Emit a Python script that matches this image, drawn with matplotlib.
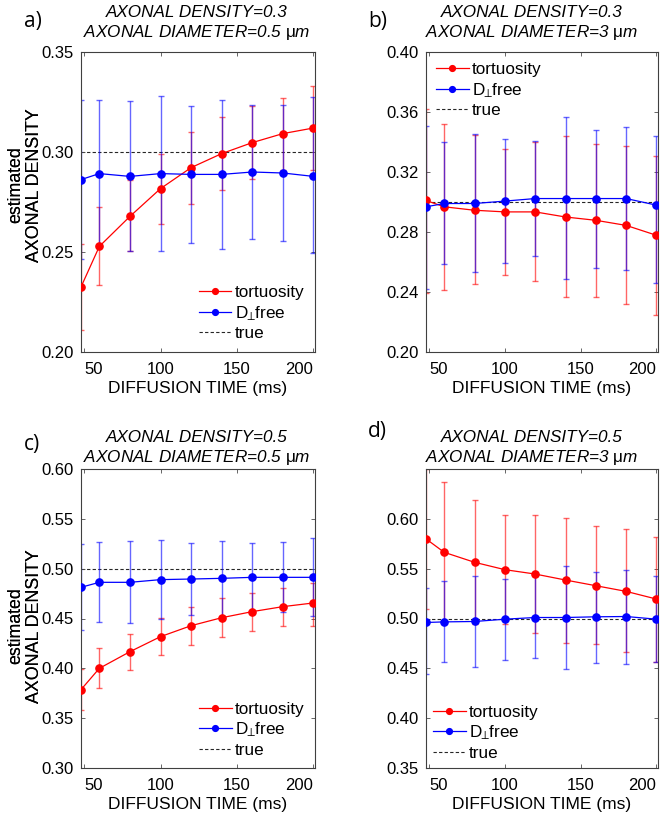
import matplotlib
matplotlib.use("Agg")
import matplotlib.pyplot as plt
import numpy as np

plt.rcParams["font.family"] = ["Liberation Sans", "DejaVu Sans"]
plt.rcParams["mathtext.fontset"] = "custom"
plt.rcParams["mathtext.rm"] = "Liberation Sans"
plt.rcParams["mathtext.it"] = "Liberation Sans:italic"
plt.rcParams["mathtext.fallback"] = "stixsans"

# diffusion times (ms), shared by all panels
TIMES = [48, 60, 80, 100, 120, 140, 160, 180, 200]
TRUE_DENSITY = [0.3, 0.3, 0.5, 0.5]
PANEL_LABELS = ["a)", "b)", "c)", "d)"]
DIAMETERS = ["0.5", "3", "0.5", "3"]

# tortuosity / D-perp-free estimates: mean, lower and upper ends of the error bars
TORT_A = [0.2325, 0.2528, 0.2678, 0.2817, 0.2922, 0.2992, 0.3047, 0.3092, 0.3120]
TORT_A_LO = [0.2112, 0.2333, 0.2505, 0.2638, 0.2738, 0.2808, 0.2867, 0.2908, 0.2908]
TORT_A_HI = [0.2540, 0.2725, 0.2858, 0.2992, 0.3100, 0.3175, 0.3228, 0.3270, 0.3328]
DFREE_A = [0.2862, 0.2892, 0.2878, 0.2892, 0.2888, 0.2888, 0.2900, 0.2895, 0.2878]
DFREE_A_LO = [0.2467, 0.2525, 0.2505, 0.2505, 0.2545, 0.2517, 0.2567, 0.2555, 0.2497]
DFREE_A_HI = [0.3258, 0.3258, 0.3253, 0.3280, 0.3230, 0.3262, 0.3237, 0.3237, 0.3275]

TORT_B = [0.3010, 0.2968, 0.2945, 0.2934, 0.2934, 0.2900, 0.2878, 0.2844, 0.2778]
TORT_B_LO = [0.2391, 0.2415, 0.2454, 0.2514, 0.2474, 0.2369, 0.2369, 0.2320, 0.2246]
TORT_B_HI = [0.3620, 0.3520, 0.3446, 0.3356, 0.3403, 0.3437, 0.3385, 0.3374, 0.3307]
DFREE_B = [0.2968, 0.2990, 0.2990, 0.3006, 0.3023, 0.3023, 0.3023, 0.3023, 0.2979]
DFREE_B_LO = [0.2418, 0.2586, 0.2530, 0.2592, 0.2641, 0.2485, 0.2563, 0.2547, 0.2458]
DFREE_B_HI = [0.3508, 0.3397, 0.3453, 0.3423, 0.3408, 0.3564, 0.3482, 0.3497, 0.3441]

TORT_C = [0.3786, 0.4000, 0.4167, 0.4318, 0.4428, 0.4508, 0.4569, 0.4619, 0.4656]
TORT_C_LO = [0.3580, 0.3800, 0.3983, 0.4134, 0.4234, 0.4311, 0.4378, 0.4428, 0.4428]
TORT_C_HI = [0.3990, 0.4200, 0.4344, 0.4502, 0.4619, 0.4702, 0.4752, 0.4803, 0.4856]
DFREE_C = [0.4813, 0.4863, 0.4863, 0.4890, 0.4896, 0.4903, 0.4913, 0.4913, 0.4913]
DFREE_C_LO = [0.4388, 0.4462, 0.4455, 0.4495, 0.4535, 0.4528, 0.4569, 0.4569, 0.4522]
DFREE_C_HI = [0.5250, 0.5264, 0.5281, 0.5288, 0.5254, 0.5281, 0.5258, 0.5271, 0.5304]

TORT_D = [0.5799, 0.5664, 0.5564, 0.5490, 0.5446, 0.5386, 0.5329, 0.5272, 0.5195]
TORT_D_LO = [0.5100, 0.4960, 0.4940, 0.4946, 0.4859, 0.4758, 0.4742, 0.4664, 0.4564]
TORT_D_HI = [0.6500, 0.6369, 0.6185, 0.6034, 0.6034, 0.6010, 0.5926, 0.5893, 0.5815]
DFREE_D = [0.4960, 0.4966, 0.4970, 0.4993, 0.5010, 0.5010, 0.5017, 0.5020, 0.4993]
DFREE_D_LO = [0.4446, 0.4567, 0.4517, 0.4584, 0.4607, 0.4490, 0.4557, 0.4540, 0.4564]
DFREE_D_HI = [0.5302, 0.5379, 0.5430, 0.5396, 0.5423, 0.5523, 0.5470, 0.5490, 0.5423]

Y_LIMS = [(0.20, 0.35), (0.20, 0.40), (0.30, 0.60), (0.35, 0.65)]
Y_TICKS = [
    [0.20, 0.25, 0.30, 0.35],
    [0.20, 0.24, 0.28, 0.32, 0.36, 0.40],
    [0.30, 0.35, 0.40, 0.45, 0.50, 0.55, 0.60],
    [0.35, 0.40, 0.45, 0.50, 0.55, 0.60],
]
X_TICKS = [50, 100, 150, 200]
LEGEND_LOC = ["lower right", "upper left", "lower right", "lower left"]
LEGEND_PAD = [0.32, 0.3, 0.3, 0.12]

W, H = 664, 813
# axes boxes in pixels: left, top, right, bottom
BOXES = [(81, 52, 315, 352), (426, 52, 658, 352), (81, 469, 315, 768), (426, 469, 658, 768)]
TITLE_XY = [(197, 37), (532, 37), (197, 462), (532, 462)]
LABEL_XY = [(24, 22), (368, 22), (24, 444), (368, 431)]
YLABEL_Y = [0.557, 0.557, 0.475, 0.475]

series = [
    (TORT_A, TORT_A_LO, TORT_A_HI, DFREE_A, DFREE_A_LO, DFREE_A_HI),
    (TORT_B, TORT_B_LO, TORT_B_HI, DFREE_B, DFREE_B_LO, DFREE_B_HI),
    (TORT_C, TORT_C_LO, TORT_C_HI, DFREE_C, DFREE_C_LO, DFREE_C_HI),
    (TORT_D, TORT_D_LO, TORT_D_HI, DFREE_D, DFREE_D_LO, DFREE_D_HI),
]


def draw_series(ax, t, m, lo, hi, color, label):
    m = np.array(m)
    yerr = [m - np.array(lo), np.array(hi) - m]
    ax.errorbar(t, m, yerr=yerr, fmt="none", ecolor=color, elinewidth=1.0,
                capsize=2, capthick=1.0, alpha=0.6, zorder=2)
    ax.plot(t, m, "-o", color=color, lw=0.9, ms=5.2, mec=color, label=label, zorder=3)


fig = plt.figure(figsize=(W / 100, H / 100), dpi=100)

for i in range(4):
    l, t, r, b = BOXES[i]
    ax = fig.add_axes([l / W, 1 - b / H, (r - l) / W, (b - t) / H])
    tort, tlo, thi, dfr, dlo, dhi = series[i]

    draw_series(ax, TIMES, tort, tlo, thi, "#ff0000", "tortuosity")
    draw_series(ax, TIMES, dfr, dlo, dhi, "#0000ff", r"$\mathregular{D_{\!\!\perp}\!free}$")
    ax.axhline(TRUE_DENSITY[i], color="0.15", lw=0.8, ls=(0, (3, 2)), label="true", zorder=1)

    ax.set_xlim(48, 201)
    ax.set_ylim(*Y_LIMS[i])
    ax.set_xticks(X_TICKS)
    ax.set_yticks(Y_TICKS[i])
    ax.set_yticklabels([f"{v:.2f}" for v in Y_TICKS[i]])
    ax.tick_params(direction="in", top=True, right=True, length=3, width=0.6,
                   labelsize=12, color="0.3")
    ax.tick_params(axis="x", pad=7)
    ax.tick_params(axis="y", pad=5)
    xl = ax.get_xticklabels()
    xl[0].set_ha("left")
    xl[-1].set_ha("right")
    for sp in ax.spines.values():
        sp.set_linewidth(0.8)
        sp.set_color("0.25")

    ax.set_xlabel("DIFFUSION TIME (ms)", fontsize=12.5, labelpad=3)
    ax.set_ylabel("estimated\nAXONAL DENSITY", fontsize=12.8, linespacing=1.1)
    ax.yaxis.set_label_coords((43 - l) / (r - l), YLABEL_Y[i])

    ax.legend(loc=LEGEND_LOC[i], frameon=False, fontsize=12.3, handlelength=1.9,
              handletextpad=0.2, labelspacing=0.22, borderaxespad=LEGEND_PAD[i],
              borderpad=0.3, markerscale=0.8)

    tx, ty = TITLE_XY[i]
    fig.text(tx / W, 1 - ty / H,
             "AXONAL DENSITY=%.1f\nAXONAL DIAMETER=%s $\\mathrm{\\mu}$m" % (TRUE_DENSITY[i], DIAMETERS[i]),
             ha="center", va="baseline", fontsize=12.3, style="italic",
             linespacing=1.2, multialignment="center")

    lx, ly = LABEL_XY[i]
    fig.text(lx / W, 1 - ly / H, PANEL_LABELS[i], ha="left", va="center",
             fontsize=15, family=["Open Sans", "DejaVu Sans"])

fig.savefig("out.png", dpi=100)
